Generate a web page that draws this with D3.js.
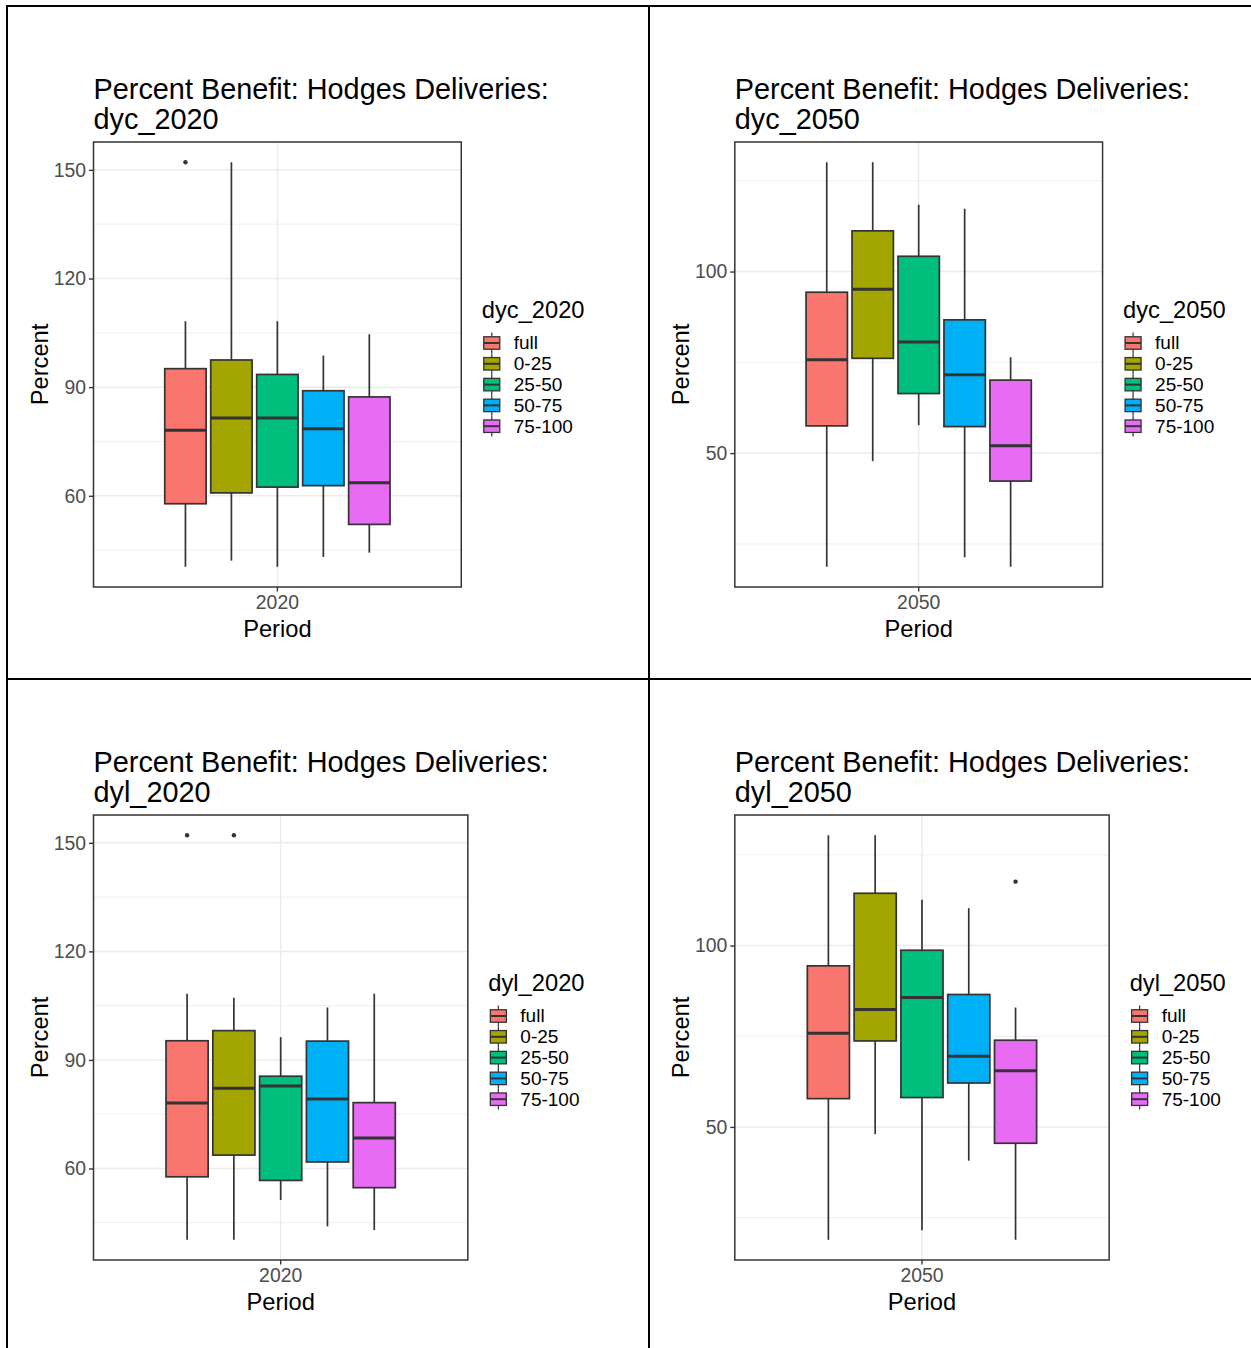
<!DOCTYPE html>
<html>
<head>
<meta charset="utf-8">
<script src="https://cdn.jsdelivr.net/npm/d3@7"></script>
<style>
  body { margin: 0; background: #fff; }
  svg { display: block; }
  text { font-family: "Liberation Sans", Arial, Helvetica, sans-serif; }
</style>
</head>
<body>
<svg id="chart" width="1251" height="1348"></svg>
<script>
// Delivery groups and their fill colours
const groups = ["full", "0-25", "25-50", "50-75", "75-100"];
const groupColors = ["#F8766D", "#A3A500", "#00BF7D", "#00B0F6", "#E76BF3"];

// dyc_2020 box statistics (whisker low, Q1, median, Q3, whisker high)
const dyc2020Low    = [40.4, 42.1, 40.4, 43.1, 44.3];
const dyc2020Q1     = [57.8, 60.8, 62.4, 62.8, 52.1];
const dyc2020Median = [78.1, 81.5, 81.5, 78.5, 63.6];
const dyc2020Q3     = [95.1, 97.5, 93.5, 89.0, 87.3];
const dyc2020High   = [108.2, 152.1, 108.2, 98.7, 104.6];
const dyc2020Out    = [[152.1], [], [], [], []];

// dyc_2050
const dyc2050Low    = [18.7, 47.8, 57.7, 21.3, 18.7];
const dyc2050Q1     = [57.5, 76.1, 66.4, 57.3, 42.3];
const dyc2050Median = [75.7, 95.1, 80.6, 71.6, 52.0];
const dyc2050Q3     = [94.3, 111.2, 104.2, 86.7, 70.1];
const dyc2050High   = [130.1, 130.1, 118.4, 117.3, 76.4];
const dyc2050Out    = [[], [], [], [], []];

// dyl_2020
const dyl2020Low    = [40.3, 40.3, 51.3, 44.0, 43.0];
const dyl2020Q1     = [57.7, 63.7, 56.7, 61.8, 54.7];
const dyl2020Median = [78.1, 82.2, 82.8, 79.2, 68.4];
const dyl2020Q3     = [95.3, 98.1, 85.5, 95.2, 78.2];
const dyl2020High   = [108.3, 107.2, 96.3, 104.5, 108.3];
const dyl2020Out    = [[152.1], [152.1], [], [], []];

// dyl_2050
const dyl2050Low    = [18.9, 48.0, 21.5, 40.7, 18.9];
const dyl2050Q1     = [57.8, 73.7, 58.1, 62.1, 45.5];
const dyl2050Median = [75.8, 82.4, 85.7, 69.5, 65.5];
const dyl2050Q3     = [94.4, 114.4, 98.7, 86.5, 73.9];
const dyl2050High   = [130.4, 130.4, 112.6, 110.3, 82.9];
const dyl2050Out    = [[], [], [], [], [117.6]];

// Axis ticks
const majorTicks2020 = [60, 90, 120, 150];
const minorTicks2020 = [45, 75, 105, 135];
const majorTicks2050 = [50, 100];
const minorTicks2050 = [25, 75, 125];

const titleText = "Percent Benefit: Hodges Deliveries:";

function buildRows(low, q1, med, q3, high, out) {
  return groups.map((g, i) => ({
    group: g, color: groupColors[i],
    low: low[i], q1: q1[i], median: med[i], q3: q3[i], high: high[i], outliers: out[i]
  }));
}

const panels = [
  { name: "dyc_2020", period: "2020", col: 0, row: 0,
    rows: buildRows(dyc2020Low, dyc2020Q1, dyc2020Median, dyc2020Q3, dyc2020High, dyc2020Out),
    major: majorTicks2020, minor: minorTicks2020 },
  { name: "dyc_2050", period: "2050", col: 1, row: 0,
    rows: buildRows(dyc2050Low, dyc2050Q1, dyc2050Median, dyc2050Q3, dyc2050High, dyc2050Out),
    major: majorTicks2050, minor: minorTicks2050 },
  { name: "dyl_2020", period: "2020", col: 0, row: 1,
    rows: buildRows(dyl2020Low, dyl2020Q1, dyl2020Median, dyl2020Q3, dyl2020High, dyl2020Out),
    major: majorTicks2020, minor: minorTicks2020 },
  { name: "dyl_2050", period: "2050", col: 1, row: 1,
    rows: buildRows(dyl2050Low, dyl2050Q1, dyl2050Median, dyl2050Q3, dyl2050High, dyl2050Out),
    major: majorTicks2050, minor: minorTicks2050 }
];

const svg = d3.select("#chart");
const ink = "#333333";
const gridColor = "#ebebeb";

// Table frame around the four figures
const frame = svg.append("g").attr("stroke", "#000").attr("stroke-width", 2);
frame.append("line").attr("x1", 7).attr("x2", 7).attr("y1", 5).attr("y2", 1348);
frame.append("line").attr("x1", 6).attr("x2", 1251).attr("y1", 6).attr("y2", 6);
frame.append("line").attr("x1", 649).attr("x2", 649).attr("y1", 5).attr("y2", 1348);
frame.append("line").attr("x1", 6).attr("x2", 1251).attr("y1", 679).attr("y2", 679);

panels.forEach(p => {
  const x0 = p.col * 641.3;
  const y0 = p.row * 673;
  const g = svg.append("g");

  const plotLeft = 93.5 + x0;
  const plotTop = 142 + y0;
  const plotBottom = 587 + y0;
  const legendRight = 584.5 + x0;

  // Legend title first: its width decides where the panel ends
  const legTitle = g.append("text")
    .attr("font-size", 23.7).attr("fill", "#000")
    .attr("y", y0 + 317.5).text(p.name);
  const legWidth = legTitle.node().getComputedTextLength();
  const legendLeft = legendRight - legWidth;
  legTitle.attr("x", legendLeft);
  const plotRight = legendLeft - 20.5;

  // Scales
  const lo = d3.min(p.rows, r => Math.min(r.low, ...r.outliers));
  const hi = d3.max(p.rows, r => Math.max(r.high, ...r.outliers));
  const pad = (hi - lo) * 0.05;
  const y = d3.scaleLinear().domain([lo - pad, hi + pad]).range([plotBottom, plotTop]);
  const xPeriod = d3.scaleBand().domain([p.period]).range([plotLeft, plotRight])
    .paddingInner(0).paddingOuter(0.3);
  const xGroup = d3.scaleBand().domain(groups).range([0, xPeriod.bandwidth()])
    .paddingInner(0.1).paddingOuter(0.05);
  const periodCenter = xPeriod(p.period) + xPeriod.bandwidth() / 2;

  // Grid
  const grid = g.append("g").attr("stroke", gridColor).attr("fill", "none");
  p.minor.forEach(v => grid.append("line")
    .attr("x1", plotLeft).attr("x2", plotRight).attr("y1", y(v)).attr("y2", y(v))
    .attr("stroke-width", 0.8));
  p.major.forEach(v => grid.append("line")
    .attr("x1", plotLeft).attr("x2", plotRight).attr("y1", y(v)).attr("y2", y(v))
    .attr("stroke-width", 1.5));
  grid.append("line").attr("x1", periodCenter).attr("x2", periodCenter)
    .attr("y1", plotTop).attr("y2", plotBottom).attr("stroke-width", 1.5);

  // Boxes
  const boxes = g.append("g").selectAll("g.box").data(p.rows).join("g").attr("class", "box");
  boxes.each(function(r) {
    const bx = xPeriod(p.period) + xGroup(r.group);
    const bw = xGroup.bandwidth();
    const cx = bx + bw / 2;
    const b = d3.select(this);
    b.append("line").attr("x1", cx).attr("x2", cx).attr("y1", y(r.high)).attr("y2", y(r.q3))
      .attr("stroke", ink).attr("stroke-width", 1.7);
    b.append("line").attr("x1", cx).attr("x2", cx).attr("y1", y(r.q1)).attr("y2", y(r.low))
      .attr("stroke", ink).attr("stroke-width", 1.7);
    b.append("rect").attr("x", bx).attr("width", bw)
      .attr("y", y(r.q3)).attr("height", y(r.q1) - y(r.q3))
      .attr("fill", r.color).attr("stroke", ink).attr("stroke-width", 1.7);
    b.append("line").attr("x1", bx).attr("x2", bx + bw).attr("y1", y(r.median)).attr("y2", y(r.median))
      .attr("stroke", ink).attr("stroke-width", 3);
    r.outliers.forEach(o => b.append("circle").attr("cx", cx).attr("cy", y(o)).attr("r", 2.2)
      .attr("fill", ink));
  });

  // Panel border
  g.append("rect").attr("x", plotLeft).attr("y", plotTop)
    .attr("width", plotRight - plotLeft).attr("height", plotBottom - plotTop)
    .attr("fill", "none").attr("stroke", ink).attr("stroke-width", 1.5);

  // Y axis
  const yAxis = g.append("g").attr("transform", `translate(${plotLeft},0)`)
    .call(d3.axisLeft(y).tickValues(p.major).tickSize(4.5).tickPadding(3).tickFormat(d3.format("d")));
  yAxis.select(".domain").remove();
  yAxis.selectAll(".tick line").attr("stroke", ink).attr("stroke-width", 1.4);
  yAxis.selectAll(".tick text").attr("fill", "#4d4d4d").attr("font-size", 19.4)
    .attr("font-family", "Liberation Sans, Arial, sans-serif");

  // X axis
  const xAxis = g.append("g").attr("transform", `translate(0,${plotBottom})`)
    .call(d3.axisBottom(xPeriod).tickSize(4.5).tickPadding(3));
  xAxis.select(".domain").remove();
  xAxis.selectAll(".tick line").attr("stroke", ink).attr("stroke-width", 1.4);
  xAxis.selectAll(".tick text").attr("fill", "#4d4d4d").attr("font-size", 19.4)
    .attr("font-family", "Liberation Sans, Arial, sans-serif")
    .attr("dy", null).attr("y", y0 + 609 - plotBottom);

  // Axis titles
  g.append("text").attr("x", periodCenter).attr("y", y0 + 636.5)
    .attr("text-anchor", "middle").attr("font-size", 23.7).attr("fill", "#000").text("Period");
  g.append("text")
    .attr("transform", `translate(${x0 + 47.5},${(plotTop + plotBottom) / 2}) rotate(-90)`)
    .attr("text-anchor", "middle").attr("font-size", 23.7).attr("fill", "#000").text("Percent");

  // Title
  g.append("text").attr("x", plotLeft).attr("y", y0 + 98.5)
    .attr("font-size", 28.85).attr("fill", "#000").text(titleText);
  g.append("text").attr("x", plotLeft).attr("y", y0 + 128.7)
    .attr("font-size", 28.85).attr("fill", "#000").text(p.name);

  // Legend keys
  const keyH = 20.8, keyW = 16;
  const keys = g.append("g").selectAll("g.key").data(p.rows).join("g").attr("class", "key")
    .attr("transform", (r, i) => `translate(${legendLeft + 2},${y0 + 332.6 + i * keyH})`);
  keys.append("line").attr("x1", keyW / 2).attr("x2", keyW / 2).attr("y1", 0).attr("y2", keyH)
    .attr("stroke", ink).attr("stroke-width", 1.2);
  keys.append("rect").attr("x", 0).attr("y", keyH * 0.2).attr("width", keyW).attr("height", keyH * 0.6)
    .attr("fill", r => r.color).attr("stroke", ink).attr("stroke-width", 1.3);
  keys.append("line").attr("x1", 0).attr("x2", keyW).attr("y1", keyH / 2).attr("y2", keyH / 2)
    .attr("stroke", ink).attr("stroke-width", 2);
  keys.append("text").attr("x", 30).attr("y", 16.7).attr("font-size", 19).attr("fill", "#000")
    .text(r => r.group);
});
</script>
</body>
</html>
